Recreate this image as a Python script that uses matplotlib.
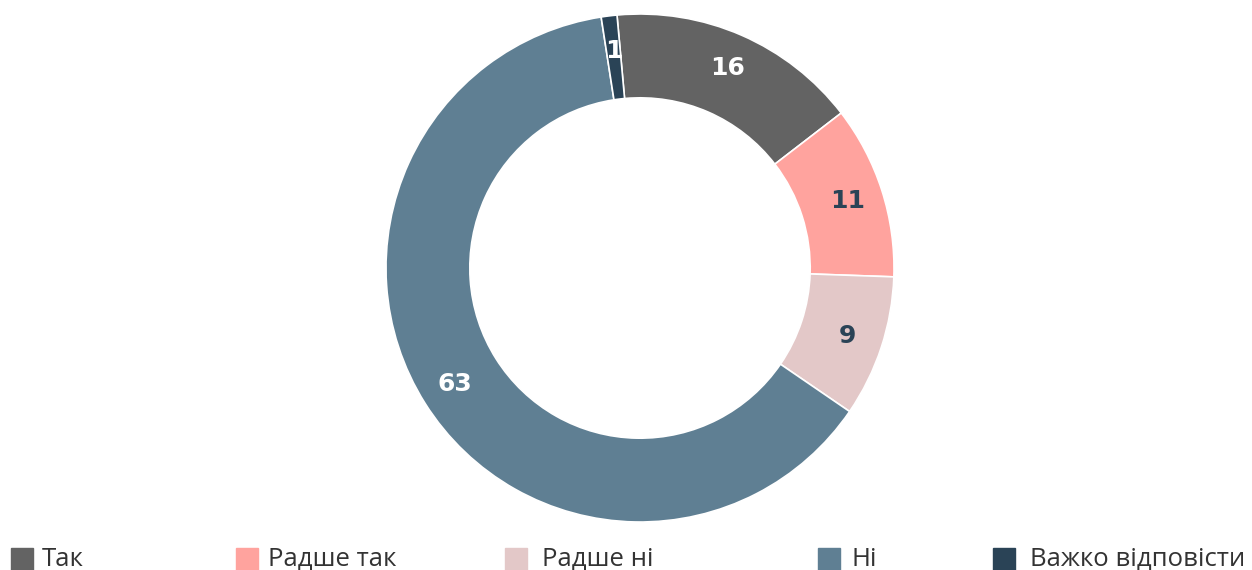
"""
Donut chart of answers (Так / Радше так / Радше ні / Ні / Важко відповісти).
"""
import numpy as np
import matplotlib
matplotlib.use('Agg')
import matplotlib.pyplot as plt
from matplotlib.patches import Rectangle

categories = ['Так', 'Радше так', 'Радше ні', 'Ні', 'Важко відповісти']
values = [16, 11, 9, 63, 1]
colors = ['#636363', '#ffa39e', '#e3c8c8', '#5f7f93', '#2a4356']
label_colors = ['white', '#2a4356', '#2a4356', 'white', 'white']

# legend square left edges and text left edges, in pixels
legend_box_x = [11, 236, 505, 818, 993]
legend_text_x = [42, 268, 542, 852, 1030]

W, H = 1252, 570
fig = plt.figure(figsize=(W / 100, H / 100), dpi=100)

cx, cy, r = 640, 268, 254
ax = fig.add_axes([(cx - r) / W, (H - cy - r) / H, 2 * r / W, 2 * r / H])
wedges, _ = ax.pie(values, colors=colors, startangle=95.2, counterclock=False,
                   radius=1.0, wedgeprops=dict(width=0.33, edgecolor='white',
                                               linewidth=1.2))
ax.set_xlim(-1, 1)
ax.set_ylim(-1, 1)
ax.set_aspect('equal')
ax.axis('off')

for w, val, col in zip(wedges, values, label_colors):
    mid = np.deg2rad((w.theta1 + w.theta2) / 2)
    rr = 0.86
    ax.text(rr * np.cos(mid), rr * np.sin(mid), str(val), color=col,
            ha='center', va='center', fontsize=18, fontweight='bold',
            family='DejaVu Sans')

for i, name in enumerate(categories):
    fig.patches.append(Rectangle((legend_box_x[i] / W, 0), 22 / W, 22 / H,
                                 transform=fig.transFigure, color=colors[i]))
    fig.text(legend_text_x[i] / W, 11 / H, name, ha='left', va='center',
             fontsize=18.5, family='Open Sans', color='#333333')

plt.savefig('out.png', dpi=100)
